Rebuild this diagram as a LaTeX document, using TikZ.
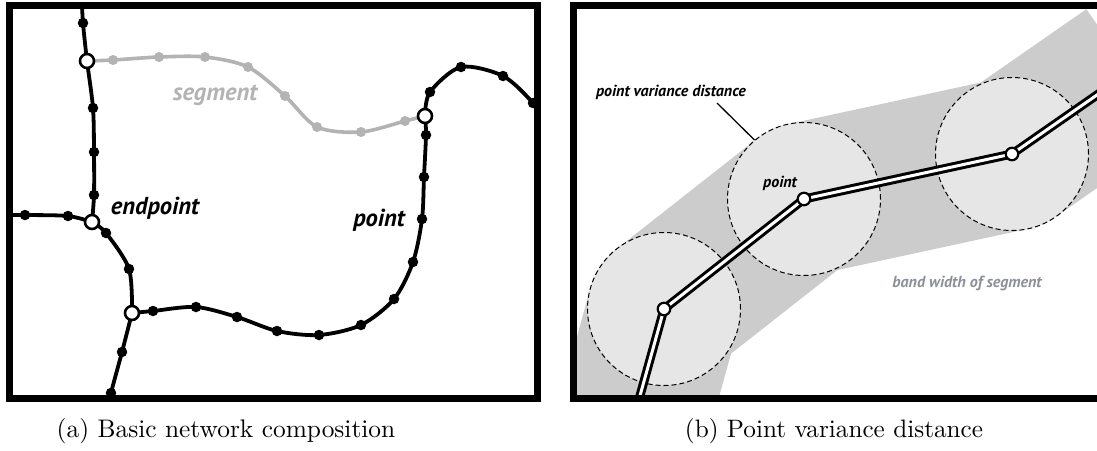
\documentclass[tikz,border=0pt]{standalone}
\usepackage{fontspec}
\usepackage{graphicx}
\newfontfamily\lbl{PT Sans}
\definecolor{segc}{HTML}{B3B3B3}
\definecolor{bandc}{HTML}{CCCCCC}
\definecolor{circc}{HTML}{E6E6E6}
\definecolor{bwc}{HTML}{8C9199}
\begin{document}
\begin{tikzpicture}[x=1pt,y=-1pt,
  netline/.style={line width=3.8pt, line cap=round, line join=round},
  segline/.style={line width=3.6pt, line cap=round, line join=round, draw=segc},
  blackdot/.style={circle, fill=black, inner sep=0pt, minimum size=10.5pt},
  greydot/.style={circle, fill=segc, inner sep=0pt, minimum size=10pt},
  opendot/.style={circle, draw=black, fill=white, line width=2.6pt, inner sep=0pt, minimum size=14pt},
  framebox/.style={line width=6.5pt},
  biglbl/.style={font=\lbl\bfseries\itshape\fontsize{24.5}{29}\selectfont, inner sep=0pt},
  smalllbl/.style={font=\lbl\bfseries\itshape\fontsize{16}{19}\selectfont, inner sep=0pt},
  varcircle/.style={circle, minimum size=153pt, inner sep=0pt, fill=circc, draw=black, line width=1pt, dash pattern=on 5pt off 3pt},
  vnode/.style={circle, draw=black, fill=white, line width=2.2pt, inner sep=0pt, minimum size=12.5pt},
  caption/.style={anchor=base, inner sep=0pt}
]
\useasboundingbox (0,0) rectangle (1097,450);
\fill[white] (0,0) rectangle (1097,450);

% ---------------- panel (a)
\begin{scope}
\clip (9.5,5.5) rectangle (537.5,398.5);
\coordinate (t0) at (81.5,-5);
\coordinate (v1) at (83,23);
\coordinate (C1) at (87,61);
\coordinate (v2) at (93,108);
\coordinate (v3) at (94,152);
\coordinate (v4) at (94,195);
\coordinate (E) at (92,222);
\coordinate (h0) at (-5,215);
\coordinate (h1) at (25,215);
\coordinate (h2) at (68,216);
\coordinate (g1) at (106,233);
\coordinate (g2) at (129,269);
\coordinate (C2) at (132,313);
\coordinate (b1) at (122,352);
\coordinate (b2) at (111,393);
\coordinate (b0) at (104,425);
\coordinate (r1) at (153,311);
\coordinate (r2) at (196,307);
\coordinate (r3) at (237,317);
\coordinate (r4) at (277,331);
\coordinate (r5) at (319,335);
\coordinate (r6) at (361,325);
\coordinate (r7) at (394,299);
\coordinate (r8) at (413,262);
\coordinate (r9) at (422,219);
\coordinate (r10) at (424,177);
\coordinate (r11) at (426,135);
\coordinate (C3) at (425,116);
\coordinate (u1) at (430,92);
\coordinate (u2) at (461,67);
\coordinate (u3) at (503,76);
\coordinate (u4) at (533,103);
\coordinate (u0) at (552,130);
\coordinate (s1) at (113,60);
\coordinate (s2) at (159,57);
\coordinate (s3) at (205,57);
\coordinate (s4) at (248,67);
\coordinate (s5) at (285,96);
\coordinate (s6) at (317,127);
\coordinate (s7) at (361,132);
\coordinate (s8) at (405,121);

\draw[segline] plot[smooth] coordinates {(C1) (s1) (s2) (s3) (s4) (s5) (s6) (s7) (s8) (C3)};
\draw[netline] plot[smooth] coordinates {(t0) (v1) (C1) (v2) (v3) (v4) (E)};
\draw[netline] plot[smooth] coordinates {(h0) (h1) (h2) (E)};
\draw[netline] plot[smooth] coordinates {(E) (g1) (g2) (C2)};
\draw[netline] plot[smooth] coordinates {(C2) (b1) (b2) (b0)};
\draw[netline] plot[smooth] coordinates {(C2) (r1) (r2) (r3) (r4) (r5) (r6) (r7) (r8) (r9) (r10) (r11) (C3)};
\draw[netline] plot[smooth] coordinates {(C3) (u1) (u2) (u3) (u4) (u0)};

\foreach \p in {s1,s2,s3,s4,s5,s6,s7,s8} \node[greydot] (n\p) at (\p) {};
\foreach \p in {v1,v2,v3,v4,h1,h2,g1,g2,b1,b2,r1,r2,r3,r4,r5,r6,r7,r8,r9,r10,r11,u1,u2,u3,u4} \node[blackdot] (n\p) at (\p) {};
\foreach \p in {C1,E,C2,C3} \node[opendot] (n\p) at (\p) {};
\end{scope}

\node[biglbl, text=segc] (lseg) at (215,95) {segment};
\node[biglbl] (lend) at (155,208) {endpoint};
\node[biglbl] (lpt) at (379,220) {point};

% ---------------- panel (b)
\begin{scope}
\clip (573.5,5.5) rectangle (1110,398.5);
\coordinate (p0) at (633,421);
\coordinate (k1) at (664,309);
\coordinate (k2) at (804,199);
\coordinate (k3) at (1012,154);
\coordinate (p4) at (1130,72);
\draw[bandc, line width=153pt, line join=round] (p0) -- (k1) -- (k2) -- (k3) -- (p4);
\node[varcircle] (vc1) at (k1) {};
\node[varcircle] (vc2) at (k2) {};
\node[varcircle] (vc3) at (k3) {};
\draw[line width=9pt, line join=round] (p0) -- (k1) -- (k2) -- (k3) -- (p4);
\draw[white, line width=3pt, line join=round] (p0) -- (k1) -- (k2) -- (k3) -- (p4);
\node[vnode] (m1) at (k1) {};
\node[vnode] (m2) at (k2) {};
\node[vnode] (m3) at (k3) {};
\end{scope}

\node[smalllbl] (pvd) at (671,92) {point variance distance};
\coordinate (ld1) at (717,103);
\draw[line width=1.3pt] (ld1) -- (vc2.130);
\node[smalllbl] (lpoint) at (780,183) {point};
\node[smalllbl, text=bwc] (lband) at (967,283) {band width of segment};

% frames
\draw[framebox] (9.5,5.5) rectangle (537.5,398.5);
\draw[framebox] (1110,5.5) -- (573.5,5.5) -- (573.5,398.5) -- (1110,398.5);

% captions
\node[caption] (capa) at (226,437) {\scalebox{2.54}{(a) Basic network composition}};
\node[caption] (capb) at (834,437) {\scalebox{2.52}{(b) Point variance distance}};
\end{tikzpicture}
\end{document}
